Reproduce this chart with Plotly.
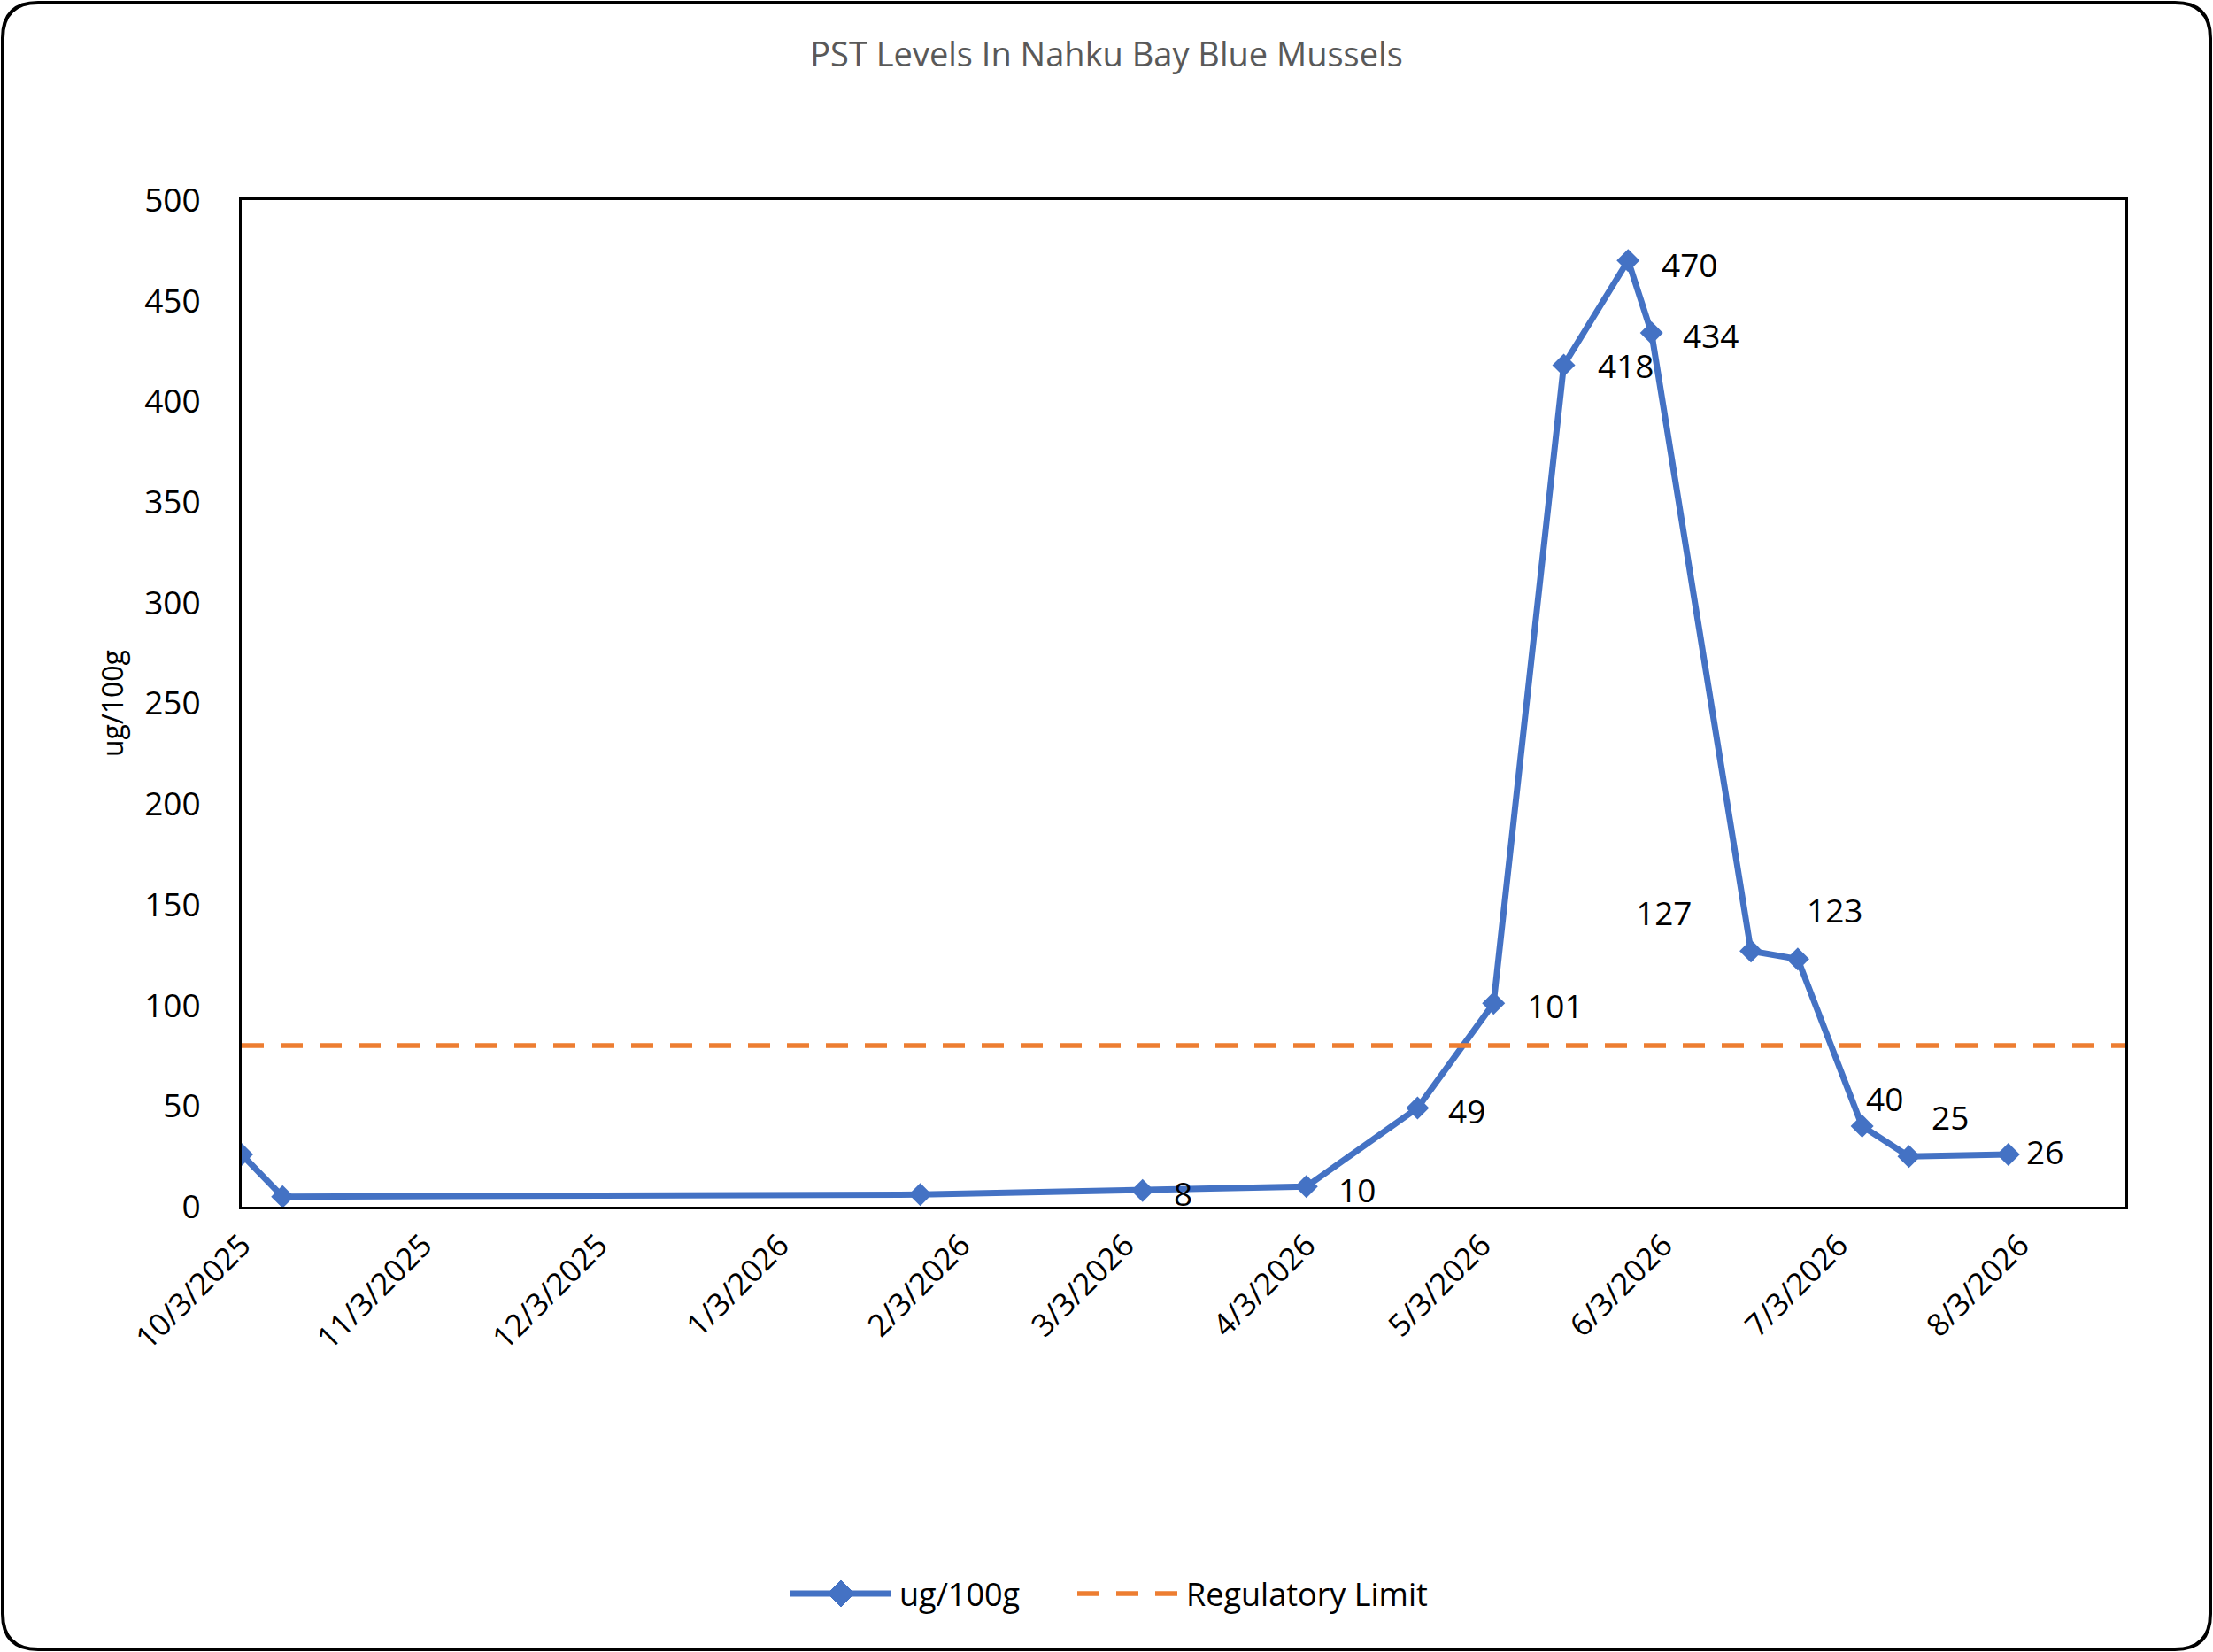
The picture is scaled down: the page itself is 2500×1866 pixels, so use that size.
import plotly.graph_objects as go

# sample dates and PST results (ug/100g)
sample_dates = [
    "2025-10-03", "2025-10-10", "2026-01-27", "2026-03-06", "2026-04-03",
    "2026-04-22", "2026-05-05", "2026-05-17", "2026-05-28", "2026-06-01",
    "2026-06-18", "2026-06-26", "2026-07-07", "2026-07-15", "2026-08-01",
]
pst_values = [26, 5, 6, 8, 10, 49, 101, 418, 470, 434, 127, 123, 40, 25, 26]
labelled = [False, False, False] + [True] * 12

limit_dates = ["2025-10-03", "2026-08-21"]
limit_values = [80, 80]

tick_dates = [
    "2025-10-03", "2025-11-03", "2025-12-03", "2026-01-03", "2026-02-03",
    "2026-03-03", "2026-04-03", "2026-05-03", "2026-06-03", "2026-07-03",
    "2026-08-03",
]
tick_labels = [
    "10/3/2025", "11/3/2025", "12/3/2025", "1/3/2026", "2/3/2026",
    "3/3/2026", "4/3/2026", "5/3/2026", "6/3/2026", "7/3/2026", "8/3/2026",
]
y_ticks = [0, 50, 100, 150, 200, 250, 300, 350, 400, 450, 500]

series_names = ["ug/100g", "Regulatory Limit"]

# label offsets in px (x right, y up), one per sample
label_offsets = [
    (0, 0), (0, 0), (0, 0), (46, -3), (57, -3), (56, -3), (69, -2),
    (70, 0), (69, -4), (67, -2), (-99, 44), (42, 56), (25, 32), (47, 45), (41, 3),
]

W, H = 2500, 1866
L, R, T, B = 273, 99, 226, 503
PW, PH = W - L - R, H - T - B
FONT = "Open Sans"
BLUE = "#4472C4"
ORANGE = "#ED7D31"


def to_paper(px, py):
    return (px - L) / PW, (H - B - py) / PH


def path_str(cmds):
    parts = []
    for cmd, coords in cmds:
        s = " ".join("%.5f,%.5f" % to_paper(*c) for c in coords)
        parts.append(cmd + " " + s)
    return " ".join(parts)


def rounded_border(x0, y0, x1, y1, r):
    return path_str([
        ("M", [(x0 + r, y0)]), ("L", [(x1 - r, y0)]), ("Q", [(x1, y0), (x1, y0 + r)]),
        ("L", [(x1, y1 - r)]), ("Q", [(x1, y1), (x1 - r, y1)]),
        ("L", [(x0 + r, y1)]), ("Q", [(x0, y1), (x0, y1 - r)]),
        ("L", [(x0, y0 + r)]), ("Q", [(x0, y0), (x0 + r, y0)]),
    ]) + " Z"


def diamond(cx, cy, r):
    return path_str([
        ("M", [(cx, cy - r)]), ("L", [(cx + r, cy)]),
        ("L", [(cx, cy + r)]), ("L", [(cx - r, cy)]),
    ]) + " Z"


fig = go.Figure()

fig.add_trace(go.Scatter(
    x=sample_dates, y=pst_values,
    mode="lines+markers",
    name=series_names[0],
    line=dict(color=BLUE, width=7),
    marker=dict(symbol="diamond", size=20, color=BLUE),
    showlegend=False,
))

fig.add_trace(go.Scatter(
    x=limit_dates, y=limit_values,
    mode="lines",
    name=series_names[1],
    line=dict(color=ORANGE, width=5.5, dash="25px,19px"),
    showlegend=False,
))

for d, v, show, (dx, dy) in zip(sample_dates, pst_values, labelled, label_offsets):
    if not show:
        continue
    fig.add_annotation(
        x=d, y=v, text=str(v), showarrow=False,
        xshift=dx, yshift=dy,
        font=dict(family=FONT, size=37, color="black"),
    )

# legend drawn by hand so the samples get Excel's long line keys
LEG_Y = 1800
x0, y0 = to_paper(893, LEG_Y)
x1, _ = to_paper(1006, LEG_Y)
fig.add_shape(type="line", xref="paper", yref="paper", x0=x0, x1=x1, y0=y0, y1=y0,
              line=dict(color=BLUE, width=7))
fig.add_shape(type="path", xref="paper", yref="paper", path=diamond(950, LEG_Y, 15),
              fillcolor=BLUE, line=dict(color=BLUE, width=1))
x0, _ = to_paper(1217, LEG_Y)
x1, _ = to_paper(1330, LEG_Y)
fig.add_shape(type="line", xref="paper", yref="paper", x0=x0, x1=x1, y0=y0, y1=y0,
              line=dict(color=ORANGE, width=5.5, dash="25px,19px"))
for name, px in zip(series_names, [1014, 1338]):
    xt, yt = to_paper(px, LEG_Y)
    fig.add_annotation(
        x=xt, y=yt, xref="paper", yref="paper", text=name, showarrow=False,
        xanchor="left", yanchor="middle",
        font=dict(family=FONT, size=36, color="black"),
    )

fig.add_shape(
    type="path", xref="paper", yref="paper",
    path=rounded_border(3, 3, W - 3, H - 3, 40),
    line=dict(color="black", width=4),
    layer="above",
)

fig.update_layout(
    width=W, height=H,
    margin=dict(l=L, r=R, t=T, b=B),
    paper_bgcolor="white",
    plot_bgcolor="white",
    font=dict(family=FONT, color="black"),
    title=dict(
        text="PST Levels In Nahku Bay Blue Mussels",
        x=0.5, xref="container", xanchor="center",
        y=1 - 62 / H, yref="container", yanchor="middle",
        font=dict(family=FONT, size=38, color="#595959"),
    ),
    showlegend=False,
)

fig.update_xaxes(
    type="date",
    range=["2025-10-03", "2026-08-21"],
    tickmode="array",
    tickvals=tick_dates,
    ticktext=tick_labels,
    tickangle=-45,
    tickfont=dict(family=FONT, size=35, color="black"),
    showgrid=False, zeroline=False,
    showline=True, linecolor="black", linewidth=3, mirror=True,
    ticks="", ticklabelstandoff=6,
    automargin=False,
)

fig.update_yaxes(
    range=[0, 500],
    tickmode="array",
    tickvals=y_ticks,
    tickfont=dict(family=FONT, size=37, color="black"),
    showgrid=False, zeroline=False,
    showline=True, linecolor="black", linewidth=3, mirror=True,
    ticks="", ticklabelstandoff=36,
    title=dict(text="ug/100g", font=dict(family=FONT, size=32, color="black"), standoff=14),
    automargin=False,
)

fig.write_html(
    "out.html",
    config={"displayModeBar": False},
    post_script="document.body.style.margin='0';",
)
